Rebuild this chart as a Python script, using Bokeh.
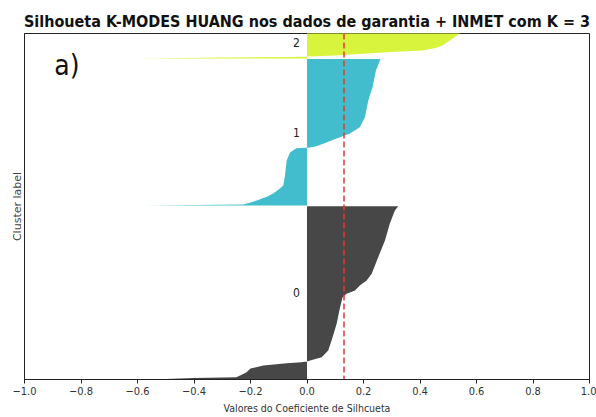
from bokeh.plotting import figure
from bokeh.models import Range1d, FixedTicker, Span, Label
from bokeh.core.properties import value
from bokeh.embed import file_html
from bokeh.resources import INLINE

# ---- data (sorted silhouette values per cluster) ----
# position = cumulative sample position (bottom -> top), value = silhouette coefficient
c0_pos = [0.6, 1.4, 2.2, 4, 7, 11, 14, 16.3, 17.3, 18, 19, 22.3, 29, 39, 55.7, 72.3,
          82.3, 85.7, 89, 94, 99, 105.7, 122.3, 139, 155.7, 169, 173.3]
c0_val = [-0.50, -0.40, -0.25, -0.237, -0.215, -0.20, -0.154, -0.072, -0.02, 0.0,
          0.011, 0.052, 0.075, 0.087, 0.105, 0.117, 0.126, 0.14, 0.17, 0.187,
          0.211, 0.229, 0.252, 0.276, 0.293, 0.311, 0.323]

c1_pos = [174, 175, 177, 179, 183, 186, 190, 194, 204, 219, 227, 230, 231.3, 232,
          233, 235.7, 241, 246, 252.3, 262.3, 279, 292.3, 309, 319, 320.5]
c1_val = [-0.572, -0.225, -0.20, -0.178, -0.14, -0.12, -0.10, -0.084, -0.078,
          -0.072, -0.06, -0.045, -0.037, 0.01, 0.03, 0.057, 0.105, 0.152, 0.187,
          0.205, 0.217, 0.232, 0.244, 0.258, 0.26]

c2_pos = [321, 322, 322.5, 323, 324, 325.7, 327.5, 329, 331.5, 334, 338, 341,
          345.7, 353]
c2_val = [-0.596, -0.30, -0.05, 0.0, 0.1, 0.198, 0.30, 0.41, 0.455, 0.48, 0.50,
          0.516, 0.54, 0.56]

cluster_names = ["0", "1", "2"]
cluster_colors = ["#474747", "#42bdcd", "#d9f43c"]
silhouette_avg = 0.131

xticks = [-1.0, -0.8, -0.6, -0.4, -0.2, 0.0, 0.2, 0.4, 0.6, 0.8, 1.0]
xtick_labels = ["\u22121.0", "\u22120.8", "\u22120.6", "\u22120.4", "\u22120.2",
                "0.0", "0.2", "0.4", "0.6", "0.8", "1.0"]

title_text = "Silhoueta K-MODES HUANG nos dados de garantia + INMET com K = 3"
xlabel = "Valores do Coeficiente de Silhcueta"
ylabel = "Cluster label"
panel_tag = "a)"

# ---- figure ----
p = figure(width=596, height=417, output_backend="svg", toolbar_location=None,
           x_range=Range1d(-1.0, 1.0), y_range=Range1d(0, 346),
           min_border_left=24, min_border_right=7, min_border_top=33,
           min_border_bottom=38)
p.grid.visible = False
p.outline_line_color = "#222222"
p.outline_line_width = 1
p.background_fill_color = "white"
p.border_fill_color = "white"

p.title.text = title_text
p.title.align = "center"
p.title.text_font = "DejaVu Sans Condensed"
p.title.text_font_size = "16px"
p.title.text_font_style = "bold"
p.title.text_color = "#111111"
p.title.standoff = 5

for pos, vals, col in zip([c0_pos, c1_pos, c2_pos], [c0_val, c1_val, c2_val],
                          cluster_colors):
    p.harea(y=pos, x1=[0] * len(pos), x2=vals, fill_color=col, fill_alpha=1.0)

label_y = [(c0_pos[0] + c0_pos[-1]) / 2, (c1_pos[0] + c1_pos[-1]) / 2,
           (c2_pos[0] + c2_pos[-1]) / 2]
p.text(x=[-0.05] * 3, y=label_y, text=cluster_names, text_align="left",
       text_baseline="middle", text_font=value("DejaVu Sans Condensed"),
       text_font_size="12px", text_color="#222222")

p.add_layout(Span(location=silhouette_avg, dimension="height",
                  line_color="#e03a35", line_dash="6 3", line_width=1.5))

p.add_layout(Label(x=-0.85, y=314, text=panel_tag, text_align="center",
                   text_baseline="middle", text_font="DejaVu Sans Condensed",
                   text_font_size="28px", text_color="#111111"))

# x axis
p.xaxis.ticker = FixedTicker(ticks=xticks)
p.xaxis.major_label_overrides = {t: l for t, l in zip(xticks, xtick_labels)}
p.xaxis.major_tick_out = 4
p.xaxis.major_tick_in = 0
p.xaxis.minor_tick_line_color = None
p.xaxis.axis_line_color = "#222222"
p.xaxis.major_tick_line_color = "#222222"
p.xaxis.major_label_text_font = "DejaVu Sans Condensed"
p.xaxis.major_label_text_font_size = "11px"
p.xaxis.major_label_text_color = "#333333"
p.xaxis.major_label_standoff = 3
p.xaxis.axis_label = xlabel
p.xaxis.axis_label_text_font = "DejaVu Sans Condensed"
p.xaxis.axis_label_text_font_size = "10.5px"
p.xaxis.axis_label_text_font_style = "normal"
p.xaxis.axis_label_text_color = "#333333"
p.xaxis.axis_label_standoff = 4

# y axis: only the label
p.yaxis.ticker = FixedTicker(ticks=[])
p.yaxis.major_tick_out = 0
p.yaxis.major_tick_in = 0
p.yaxis.minor_tick_line_color = None
p.yaxis.major_label_text_font_size = "0px"
p.yaxis.axis_line_color = "#222222"
p.yaxis.axis_label = ylabel
p.yaxis.axis_label_text_font = "DejaVu Sans"
p.yaxis.axis_label_text_font_size = "11px"
p.yaxis.axis_label_text_font_style = "normal"
p.yaxis.axis_label_text_color = "#444444"
p.yaxis.axis_label_standoff = 1

open("out.html", "w").write(file_html(p, INLINE))
